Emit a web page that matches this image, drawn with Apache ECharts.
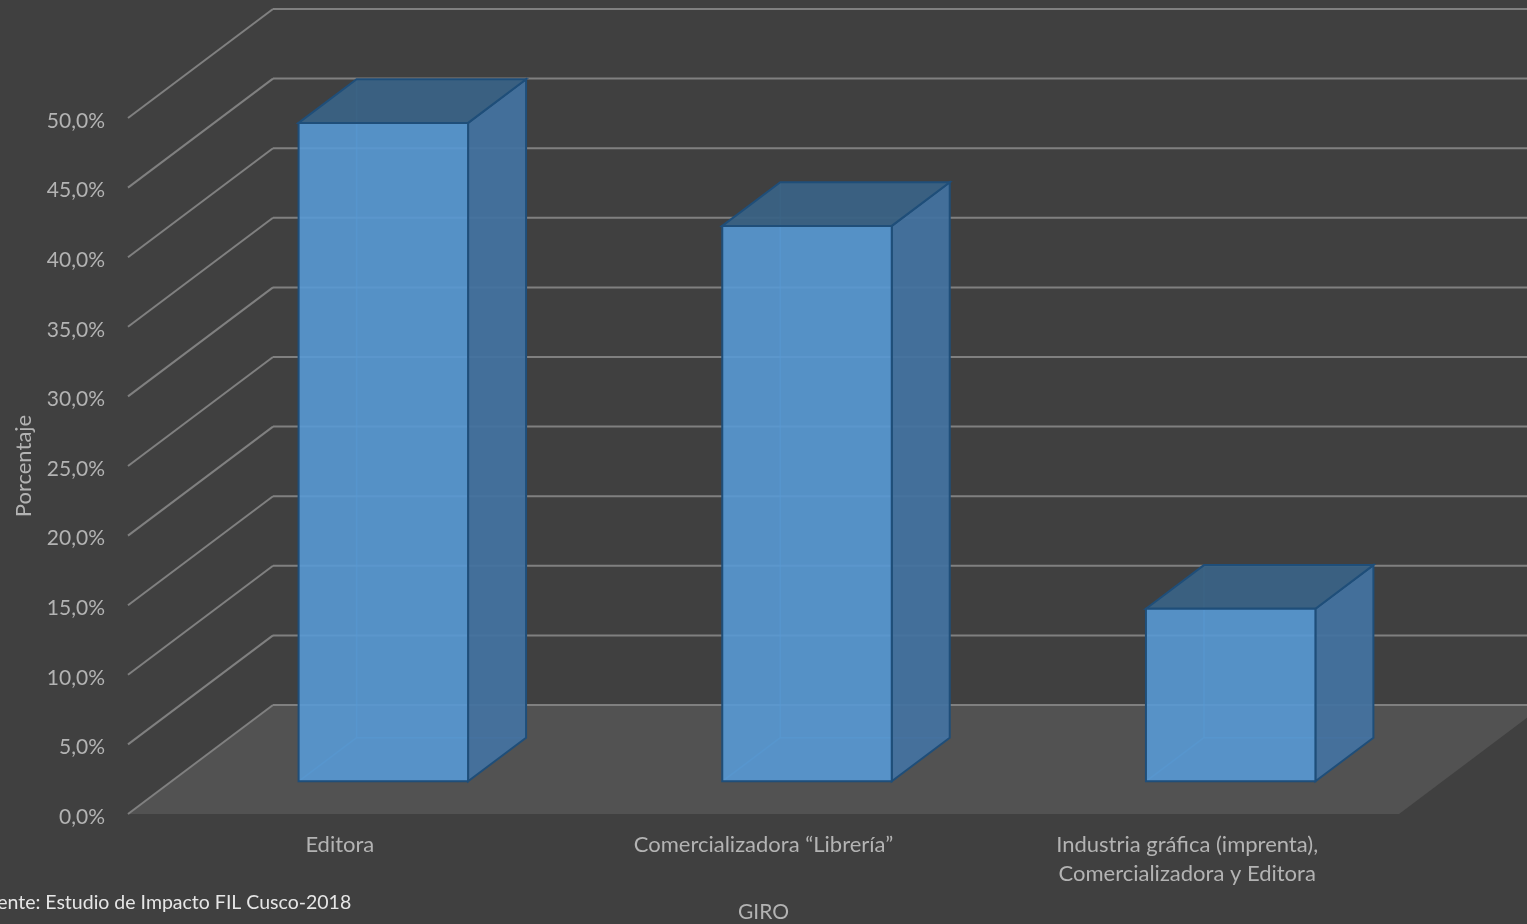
<!DOCTYPE html>
<html><head><meta charset="utf-8">
<style>html,body{margin:0;padding:0;background:#404040;overflow:hidden}#c{width:1527px;height:924px}</style>
<script src="https://cdn.jsdelivr.net/npm/echarts@6/dist/echarts.min.js"></script>
</head><body><div id="c"></div>
<script>
const categories = ['Editora', 'Comercializadora “Librería”', 'Industria gráfica (imprenta),\nComercializadora y Editora'];
const values = [47.3, 39.9, 12.4];
const ticks = [0, 5, 10, 15, 20, 25, 30, 35, 40, 45, 50];
const axisName = 'GIRO';
const valueName = 'Porcentaje';
const sourceNote = 'Fuente: Estudio de Impacto FIL Cusco-2018';

// oblique projection of the depth axis, in pixels
const DX = 145, DY = -109;
const NEAR = 0.3, FAR = 0.7, BAR_W = 0.4;

const chart = echarts.init(document.getElementById('c'), null, {renderer: 'canvas'});

function poly(points, fill, stroke, lw) {
  return {type: 'polygon', shape: {points}, style: {fill: fill || 'none', stroke: stroke || 'none', lineWidth: lw || 0}};
}

function renderWall(params, api) {
  const r = params.coordSys;
  const v = api.value(0);
  const y = api.coord([0, v])[1];
  const x0 = r.x, bx = r.x + DX, W = api.getWidth();
  const line = {stroke: '#808080', lineWidth: 2};
  const children = [];
  if (v === 0) {
    const fy = y, by = y + DY;
    const fr = r.x + r.width;
    children.push(poly([[x0, fy], [bx, by], [fr + DX, by], [fr, fy]], '#525252'));
  }
  children.push({type: 'line', shape: {x1: x0, y1: y, x2: bx, y2: y + DY}, style: line});
  children.push({type: 'line', shape: {x1: bx, y1: y + DY, x2: W, y2: y + DY}, style: line});
  return {type: 'group', children};
}

function renderBar(params, api) {
  const cat = api.value(0), val = api.value(1);
  const c = api.coord([cat, val]), b = api.coord([cat, 0]);
  const w = api.size([1, 0])[0] * BAR_W;
  const ox = DX * NEAR, oy = DY * NEAR;
  const ddx = DX * (FAR - NEAR), ddy = DY * (FAR - NEAR);
  const l = c[0] - w / 2 + ox, rt = l + w;
  const bot = b[1] + oy, top = bot - (b[1] - c[1]);
  const edge = '#1f4e79';
  const innerEdge = 'rgba(91,155,213,0.5)';
  return {type: 'group', children: [
    poly([[l + ddx, top + ddy], [rt + ddx, top + ddy], [rt + ddx, bot + ddy], [l + ddx, bot + ddy]], 'rgba(70,125,175,0.12)'),
    poly([[l, bot], [rt, bot], [rt + ddx, bot + ddy], [l + ddx, bot + ddy]], 'rgba(91,155,213,0.08)'),
    {type: 'line', shape: {x1: l + ddx, y1: top + ddy, x2: l + ddx, y2: bot + ddy}, style: {stroke: innerEdge, lineWidth: 1.5}},
    {type: 'line', shape: {x1: l, y1: bot, x2: l + ddx, y2: bot + ddy}, style: {stroke: innerEdge, lineWidth: 1.5}},
    {type: 'line', shape: {x1: l + ddx, y1: bot + ddy, x2: rt + ddx, y2: bot + ddy}, style: {stroke: innerEdge, lineWidth: 1.5}},
    poly([[rt, top], [rt + ddx, top + ddy], [rt + ddx, bot + ddy], [rt, bot]], 'rgba(68,114,160,0.93)', edge, 2),
    poly([[l, top], [l + ddx, top + ddy], [rt + ddx, top + ddy], [rt, top]], 'rgba(58,98,132,0.95)', edge, 2),
    poly([[l, top], [rt, top], [rt, bot], [l, bot]], 'rgba(88,153,212,0.9)', edge, 2)
  ]};
}

chart.setOption({
  animation: false,
  backgroundColor: '#404040',
  textStyle: {fontFamily: 'Lato'},
  grid: {left: 128, right: 128, top: 118, bottom: 110, containLabel: false, outerBoundsMode: 'none'},
  graphic: [{type: 'text', left: -24, top: 893,
    style: {text: sourceNote, fill: '#e6e6e6', font: '19.5px Lato'}}],
  xAxis: {
    type: 'category', data: categories,
    axisLine: {show: false}, axisTick: {show: false}, splitLine: {show: false},
    axisLabel: {color: '#b3b3b3', fontSize: 22, fontFamily: 'Lato', margin: 16, lineHeight: 29, interval: 0},
    name: axisName, nameLocation: 'middle', nameGap: 88,
    nameTextStyle: {color: '#b3b3b3', fontSize: 21, fontFamily: 'Lato'}
  },
  yAxis: {
    type: 'value', min: 0, max: 50, interval: 5,
    axisLine: {show: false}, axisTick: {show: false}, splitLine: {show: false},
    axisLabel: {color: '#b3b3b3', fontSize: 21, fontFamily: 'Lato', margin: 23,
      formatter: v => '{t|' + v.toFixed(1).replace('.', ',') + '%}',
      rich: {t: {color: '#b3b3b3', fontSize: 21, fontFamily: 'Lato', padding: [6, 0, 0, 0]}}},
    name: valueName, nameLocation: 'middle', nameGap: 93, nameRotate: 90,
    nameTextStyle: {color: '#b3b3b3', fontSize: 22, fontFamily: 'Lato'}
  },
  series: [
    {type: 'custom', name: 'wall', clip: false, silent: true, z: 1,
      data: ticks.map(t => [t]), encode: {y: 0}, renderItem: renderWall},
    {type: 'custom', name: 'Porcentaje', clip: false, z: 2,
      data: values.map((v, i) => [i, v]), encode: {x: 0, y: 1}, renderItem: renderBar}
  ]
});
</script></body></html>
